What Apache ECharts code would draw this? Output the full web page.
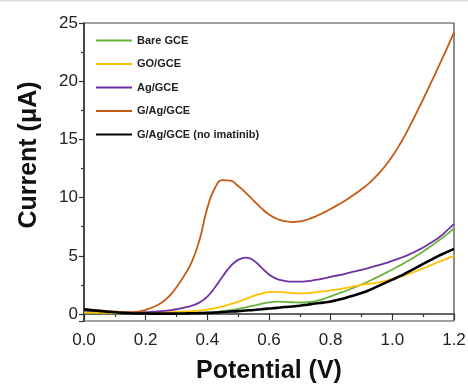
<!DOCTYPE html>
<html>
<head>
<meta charset="utf-8">
<script src="https://cdn.jsdelivr.net/npm/echarts@6/dist/echarts.min.js"></script>
<style>html,body{margin:0;padding:0;background:#fff}#c{width:468px;height:384px}</style>
</head>
<body>
<div id="c"></div>
<script>
// Potential grid (V)
const potential = [0,0.025,0.05,0.075,0.1,0.125,0.15,0.175,0.2,0.225,0.25,0.275,0.3,0.325,0.35,0.375,0.4,0.425,0.45,0.475,0.5,0.525,0.55,0.575,0.6,0.625,0.65,0.675,0.7,0.725,0.75,0.775,0.8,0.825,0.85,0.875,0.9,0.925,0.95,0.975,1.0,1.025,1.05,1.075,1.1,1.125,1.15,1.175,1.2];

const seriesNames = ['Bare GCE','GO/GCE','Ag/GCE','G/Ag/GCE','G/Ag/GCE (no imatinib)'];

// Current (µA) for each electrode
const bareGCE = [0.1,0.09,0.08,0.07,0.06,0.05,0.05,0.05,0.05,0.05,0.05,0.05,0.05,0.05,0.07,0.09,0.12,0.17,0.24,0.33,0.44,0.57,0.72,0.88,1.0,1.06,1.05,1.01,0.99,1.01,1.1,1.28,1.52,1.76,2.0,2.26,2.54,2.84,3.15,3.48,3.82,4.18,4.55,4.95,5.37,5.82,6.3,6.8,7.35];
const goGCE = [0.15,0.13,0.12,0.1,0.08,0.08,0.07,0.07,0.08,0.1,0.12,0.15,0.18,0.21,0.25,0.3,0.38,0.5,0.65,0.85,1.05,1.3,1.55,1.76,1.88,1.9,1.86,1.8,1.77,1.8,1.86,1.94,2.03,2.12,2.24,2.37,2.5,2.6,2.7,2.83,3.0,3.2,3.42,3.65,3.92,4.2,4.47,4.74,5.0];
const agGCE = [0.3,0.27,0.24,0.2,0.17,0.14,0.13,0.14,0.16,0.2,0.25,0.32,0.41,0.54,0.72,1.0,1.5,2.3,3.25,4.1,4.65,4.85,4.6,4.0,3.4,3.02,2.85,2.78,2.78,2.83,2.93,3.05,3.19,3.33,3.48,3.64,3.8,3.97,4.15,4.35,4.57,4.8,5.06,5.37,5.72,6.12,6.55,7.12,7.75];
const gAgGCE = [0.42,0.37,0.31,0.26,0.21,0.17,0.15,0.2,0.36,0.6,0.95,1.5,2.3,3.3,4.5,6.4,9.1,10.85,11.5,11.45,11.0,10.4,9.75,9.1,8.55,8.18,7.97,7.9,7.95,8.12,8.37,8.68,9.02,9.4,9.8,10.25,10.72,11.25,11.9,12.65,13.55,14.6,15.8,17.1,18.45,19.85,21.25,22.7,24.2];
const noImatinib = [0.4,0.33,0.27,0.2,0.15,0.1,0.07,0.05,0.04,0.03,0.03,0.03,0.04,0.05,0.06,0.08,0.1,0.13,0.17,0.21,0.25,0.3,0.35,0.41,0.47,0.53,0.6,0.65,0.71,0.8,0.9,0.98,1.07,1.22,1.4,1.6,1.8,2.05,2.35,2.65,2.95,3.25,3.6,3.95,4.3,4.65,5.0,5.3,5.6];

const xTicks = [0,0.2,0.4,0.6,0.8,1.0,1.2];
const yTicks = [0,5,10,15,20,25];

const colors = ['#6bb23f','#ffc000','#7030a0','#c55a11','#000000'];
const widths = [1.8,1.8,1.8,1.8,2.6];
const values = [bareGCE, goGCE, agGCE, gAgGCE, noImatinib];

const chart = echarts.init(document.getElementById('c'));
const font = '"Liberation Sans", Arial, sans-serif';

chart.setOption({
  animation: false,
  backgroundColor: '#fff',
  graphic: [{type: 'rect', left: 0, top: 0, shape: {width: 468, height: 1.5}, style: {fill: '#dcdcdc'}, silent: true}],
  grid: {left: 84, right: 14, top: 23, bottom: 63, show: true, borderColor: '#444', borderWidth: 1.2,
         containLabel: false, outerBoundsMode: 'none'},
  legend: {
    orient: 'vertical', left: 91, top: 29, itemWidth: 36, itemHeight: 2, itemGap: 10.5, icon: 'rect',
    data: seriesNames,
    textStyle: {fontFamily: font, fontWeight: 'bold', fontSize: 11, color: '#222', lineHeight: 13}
  },
  xAxis: {
    type: 'value', min: xTicks[0], max: xTicks[xTicks.length-1], interval: 0.2,
    name: 'Potential (V)', nameLocation: 'middle', nameGap: 38,
    nameTextStyle: {fontFamily: font, fontWeight: 'bold', fontSize: 25, color: '#111'},
    axisLine: {lineStyle: {color: '#333', width: 1.5}},
    axisTick: {show: true, inside: false, length: 6, lineStyle: {color: '#333', width: 1.2}},
    minorTick: {show: true, splitNumber: 2, length: 3, lineStyle: {color: '#333', width: 1.2}},
    axisLabel: {fontFamily: font, fontSize: 17, color: '#222', margin: 11, formatter: v => v.toFixed(1)},
    splitLine: {show: false}
  },
  yAxis: {
    type: 'value', min: -0.6, max: yTicks[yTicks.length-1], splitNumber: 5,
    name: 'Current (\u03bcA)', nameLocation: 'middle', nameGap: 42,
    nameTextStyle: {fontFamily: font, fontWeight: 'bold', fontSize: 25, color: '#111', padding: [0, 0, 0, 34]},
    axisLine: {show: true, lineStyle: {color: '#333', width: 1.5}},
    axisTick: {show: true, inside: false, length: 5, lineStyle: {color: '#333', width: 1.2}},
    minorTick: {show: true, splitNumber: 2, length: 3, lineStyle: {color: '#333', width: 1.2}},
    axisLabel: {fontFamily: font, fontSize: 17, color: '#222', margin: 6, showMinLabel: false},
    splitLine: {show: false}
  },
  series: seriesNames.map((n, i) => ({
    name: n, type: 'line', smooth: 0.5, symbol: 'none',
    lineStyle: {color: colors[i], width: widths[i]},
    itemStyle: {color: colors[i]},
    data: potential.map((p, j) => [p, values[i][j]])
  }))
});
</script>
</body>
</html>
